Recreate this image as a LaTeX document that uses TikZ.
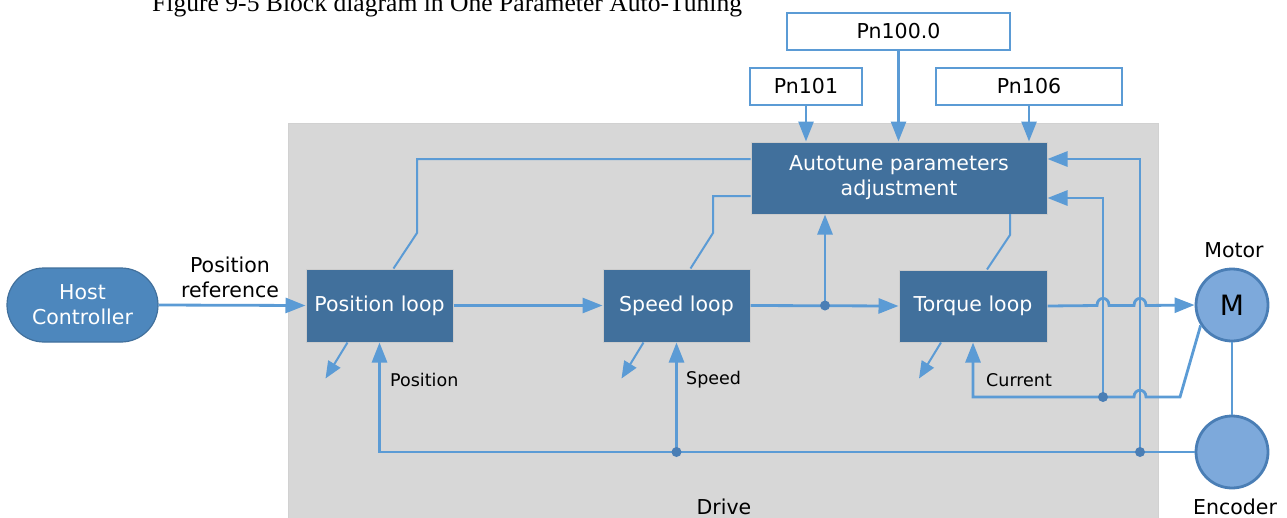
\documentclass[tikz,border=0pt]{standalone}
\usepackage{fontspec}
\setmainfont{DejaVu Sans}
\newfontfamily\capfont{Liberation Serif}
\usetikzlibrary{arrows.meta}
\definecolor{lineblue}{HTML}{5B9BD5}
\definecolor{boxblue}{HTML}{41709C}
\definecolor{hostblue}{HTML}{4D87BD}
\definecolor{motorfill}{HTML}{7DA9DB}
\definecolor{motorline}{HTML}{4A7EB5}
\definecolor{drivegray}{HTML}{D7D7D7}
\begin{document}
\begin{tikzpicture}[x=1pt,y=-1pt,
  font=\fontsize{20.5}{25}\selectfont,
  loopbox/.style={draw=black!20, line width=1pt, fill=boxblue, text=white, inner sep=0pt, align=center},
  pnbox/.style={draw=lineblue, line width=1.2pt, fill=white, inner sep=0pt, minimum height=37pt},
  hostbox/.style={draw=boxblue, line width=1.2pt, fill=hostblue, text=white, rounded corners=37pt, inner sep=0pt, minimum width=151pt, minimum height=74pt, align=center},
  dev/.style={circle, draw=motorline, line width=2.8pt, fill=motorfill, minimum size=72pt, inner sep=0pt},
  wire/.style={draw=lineblue, line width=2.8pt},
  arr/.style={wire, -{Triangle[length=20pt,width=15pt]}},
  thinwire/.style={draw=lineblue, line width=2pt},
  smallarr/.style={thinwire, -{Triangle[length=17pt,width=14pt]}},
  lbl/.style={text=black, inner sep=0pt},
  smalllbl/.style={text=black, inner sep=0pt, font=\fontsize{17.5}{21}\selectfont},
  dot/.style={fill=motorline}
]
\useasboundingbox (0,0) rectangle (1287,517);
% drive area
\path[fill=drivegray, draw=black!18, line width=1pt] (288,123) rectangle (1158,530);
\node[lbl] (drive) at (724,507) {Drive};
% caption (clipped at top, as in the reference)
\node[anchor=base west, inner sep=0pt, font=\capfont\fontsize{25.6}{30}\selectfont] (caption) at (152,11) {Figure 9-5 Block diagram in One Parameter Auto-Tuning};

% nodes
\node[hostbox] (host) at (82.5,305) {Host\\Controller};
\node[loopbox, minimum width=147pt, minimum height=73pt] (pos) at (379.5,305.5) {Position loop};
\node[loopbox, minimum width=147pt, minimum height=73pt] (speed) at (676.5,305.5) {Speed loop};
\node[loopbox, minimum width=148pt, minimum height=72pt] (torque) at (973,306) {Torque loop};
\node[loopbox, minimum width=296pt, minimum height=72pt] (auto) at (899,178) {Autotune parameters\\adjustment};
\node[pnbox, minimum width=223pt] (pn100) at (898.5,31.5) {Pn100.0};
\node[pnbox, minimum width=112pt] (pn101) at (806,86.5) {Pn101};
\node[pnbox, minimum width=186pt] (pn106) at (1029,86.5) {Pn106};
\node[dev] (motor) at (1232,305) {\fontsize{28}{32}\selectfont M};
\node[dev] (encoder) at (1232,452) {};
\node[lbl] (motorlbl) at (1234,250) {Motor};
\node[lbl] (enclbl) at (1235,507) {Encoder};
\node[lbl, align=center] (posref) at (230,277.5) {Position\\reference};
\node[smalllbl, anchor=west] (poslbl) at (390,380) {Position};
\node[smalllbl, anchor=west] (spdlbl) at (686,380) {Speed};
\node[smalllbl, anchor=west] (curlbl) at (986,380) {Current};

% junction coordinates
\coordinate (j0) at (825,305.5);
\coordinate (j1) at (676.5,452);
\coordinate (j2) at (1140,452);
\coordinate (j3) at (1103,397);
\coordinate (cur) at (973,397);

% parameter arrows
\draw[arr] (pn101.south) -- (pn101.south |- auto.north);
\draw[arr] (pn100.south) -- (pn100.south |- auto.north);
\draw[arr] (pn106.south) -- (pn106.south |- auto.north);

% forward path
\draw[arr] (host.east) -- (pos.west);
\draw[arr] (pos.east) -- (speed.west);
\draw[arr] (speed.east) -- (torque.west);
\draw[arr] (j0) -- (j0 |- auto.south);
\draw[arr] (torque.east) -- (1097,305.5) .. controls (1097,296) and (1109,296) .. (1109,305.5)
  -- (1134,305.5) .. controls (1134,296) and (1146,296) .. (1146,305.5) -- (motor.west);

% thin links to autotune
\draw[thinwire] ([xshift=14pt]pos.north) -- (417,233) -- (417,159) -- (auto.west |- 0,159);
\draw[thinwire] ([xshift=14pt]speed.north) -- (713,233) -- (713,196) -- (auto.west |- 0,196);
\draw[thinwire] ([xshift=14pt]torque.north) -- (1010,235) -- (1010,214) -- (auto.south -| 1010,0);

% disturbance arrows
\draw[smallarr] ([xshift=-32pt]pos.south) -- ++(-22,36);
\draw[smallarr] ([xshift=-33pt]speed.south) -- ++(-22,36);
\draw[smallarr] ([xshift=-32pt]torque.south) -- ++(-22,36);

% feedback: encoder
\draw[arr] (encoder.west) -| (pos.south);
\draw[arr] (j1) -- (speed.south);
\draw[arr] (j2) |- ([yshift=19pt]auto.east);
% feedback: current
\draw[arr] (motor.213) -- (1180,397) -- (1146,397) .. controls (1146,388) and (1134,388) .. (1134,397)
  -- (cur) -- (torque.south);
\draw[arr] (j3) |- ([yshift=-20pt]auto.east);
% motor - encoder
\draw[wire] (motor.south) -- (encoder.north);

% junction dots
\foreach \j in {j0,j1,j2,j3} \fill[dot] (\j) circle[radius=5pt];
\end{tikzpicture}
\end{document}
